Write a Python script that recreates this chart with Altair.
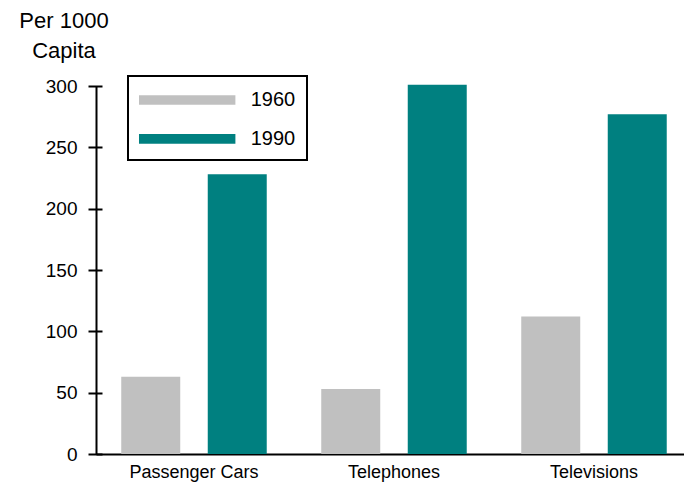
import altair as alt
import pandas as pd

# Ownership per 1000 people, 1960 vs 1990
categories = ["Passenger Cars", "Telephones", "Televisions"]
years = ["1960", "1990"]
values_1960 = [63, 53, 112]
values_1990 = [228, 301, 277]
tick_values = [0, 50, 100, 150, 200, 250, 300]
year_colors = ["#c0c0c0", "#008080"]

rows = []
for cat, v60, v90 in zip(categories, values_1960, values_1990):
    rows.append({"item": cat, "year": "1960", "value": v60})
    rows.append({"item": cat, "year": "1990", "value": v90})
df = pd.DataFrame(rows)

FONT = "Liberation Sans"
y_scale = alt.Scale(domain=[0, 300], nice=False)

# wide, flat legend swatch expressed in the unit symbol space
swatch = "M-3.708,-0.373H3.708V0.373H-3.708Z"

bars = alt.Chart(df).mark_bar().encode(
    x=alt.X(
        "item:N",
        sort=categories,
        scale=alt.Scale(paddingInner=0.2725, paddingOuter=0.10625, align=0.594),
        axis=alt.Axis(
            title=None, labelAngle=0, ticks=False, domainColor="black",
            domainWidth=2, labelFont=FONT, labelFontSize=18, labelColor="black",
            labelPadding=9, grid=False,
        ),
    ),
    xOffset=alt.XOffset(
        "year:N", sort=years, scale=alt.Scale(paddingInner=0.318, paddingOuter=0)
    ),
    y=alt.Y(
        "value:Q",
        scale=y_scale,
        axis=alt.Axis(
            title=None, orient="left", ticks=False, labels=False, grid=False,
            domain=True, domainColor="black", domainWidth=2,
        ),
    ),
    color=alt.Color(
        "year:N",
        sort=years,
        scale=alt.Scale(domain=years, range=year_colors),
        legend=alt.Legend(
            title=None, orient="none", legendX=32, legendY=-10,
            direction="vertical", strokeColor="black", padding=11,
            symbolType=swatch, symbolSize=676, symbolStrokeWidth=0,
            symbolOffset=35.2, labelOffset=50.5, rowPadding=15.8,
            labelFont=FONT, labelFontSize=20, labelColor="black",
        ),
    ),
)

# second y axis carrying the ticks that cross the axis line, plus labels
tick_axis = alt.Chart(df).mark_point(opacity=0).encode(
    y=alt.Y(
        "value:Q",
        scale=y_scale,
        axis=alt.Axis(
            title=None, orient="left", values=tick_values, offset=-6,
            tickSize=14, tickWidth=2, tickColor="black", domain=False,
            grid=False, labelFont=FONT, labelFontSize=19, labelColor="black",
            labelPadding=11,
        ),
    )
)

chart = (
    alt.layer(bars, tick_axis)
    .resolve_axis(y="independent")
    .properties(
        width=588,
        height=368,
        autosize=alt.AutoSizeParams(type="none"),
        padding={"left": 96, "top": 86, "right": 0, "bottom": 31},
        title=alt.TitleParams(
            text=["Per 1000", "Capita"], anchor="start", frame="group",
            align="center", dx=-32, font=FONT, fontSize=22,
            fontWeight="normal", color="black", lineHeight=30, offset=12,
        ),
    )
    .configure_view(stroke=None)
    .configure_legend(strokeWidth=2)
)

chart.save("out.html", embed_options={"renderer": "svg", "actions": False})
